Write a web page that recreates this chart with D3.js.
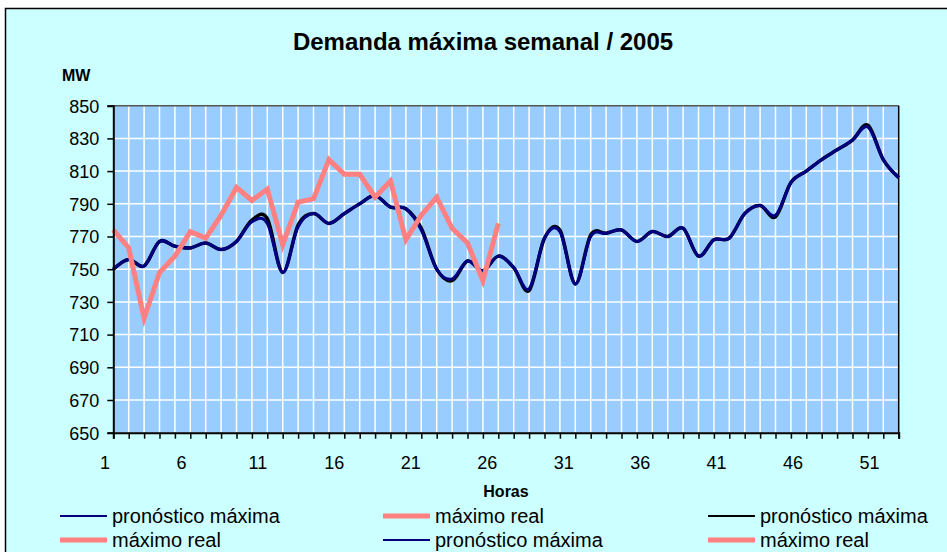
<!DOCTYPE html>
<html>
<head>
<meta charset="utf-8">
<script src="https://cdn.jsdelivr.net/npm/d3@7"></script>
<style>
  body { margin: 0; background: #ffffff; }
  text { font-family: "Liberation Sans", Arial, sans-serif; fill: #000; }
</style>
</head>
<body>
<script>
// data

const weeks = [1, 2, 3, 4, 5, 6, 7, 8, 9, 10, 11, 12, 13, 14, 15, 16, 17, 18, 19, 20, 21, 22, 23, 24, 25, 26,
  27, 28, 29, 30, 31, 32, 33, 34, 35, 36, 37, 38, 39, 40, 41, 42, 43, 44, 45, 46, 47, 48, 49, 50, 51, 52];
const weekLabels = [1, 6, 11, 16, 21, 26, 31, 36, 41, 46, 51];
const yTicks = [650, 670, 690, 710, 730, 750, 770, 790, 810, 830, 850];

const pronostico = [750, 756, 752, 767, 764, 763, 766, 762, 767, 779, 778, 748, 776, 784, 778, 784, 790, 795, 788, 787,
  774, 750, 744, 755, 749, 758, 751, 738, 769, 773, 741, 770, 772, 774, 767, 773, 770, 775, 758, 768,
  769, 784, 789, 783, 803, 810, 817, 823, 829, 837, 817, 806];
const pronostico2 = [750, 756, 752, 767, 764, 763, 766, 762, 767, 780, 781, 748, 777, 784, 778, 784, 790, 795, 788, 787,
  775, 750, 743, 755, 749, 758, 751, 737, 769, 774, 741, 771, 772, 774, 767, 773, 770, 775, 758, 768,
  769, 784, 789, 782, 803, 810, 817, 823, 829, 838, 817, 806];
const maximoReal = [774, 763, 720, 748, 758, 773, 769, 783, 800, 792, 799, 765, 791, 793, 817, 808, 808, 794, 804, 768,
  783, 794, 775, 766, 743, 778];

const legendNames = ["pronóstico máxima", "máximo real", "pronóstico máxima", "máximo real", "pronóstico máxima", "máximo real"];
const legendColors = ["#000080", "#ff8080", "#000000", "#ff8080", "#000080", "#ff8080"];

// chart

const w = 947;
const h = 552;
const m = {
  top: 105.7,
  right: 48.3,
  bottom: 119.3,
  left: 113.3 };

const svg = d3.select("body").append("svg").
attr("width", w).
attr("height", h);

// chart area
svg.append("rect").
attr("x", 5.5).
attr("y", 8.5).
attr("width", w + 10).
attr("height", h + 10).
attr("fill", "#ccffff").
attr("stroke", "#000").
attr("stroke-width", 1.5);

const x = d3.scalePoint().
domain(weeks).
range([m.left, w - m.right]);
// the category labels sit a little left of their ticks
const xLab = d3.scalePoint().
domain(weeks).
range([105, 884.8]);
const y = d3.scaleLinear().
domain([650, 850]).
range([h - m.bottom, m.top]);

// plot area
svg.append("rect").
attr("x", m.left).
attr("y", m.top).
attr("width", w - m.right - m.left).
attr("height", h - m.bottom - m.top).
attr("fill", "#99ccff");

// grid
svg.append("g").
selectAll("line").
data(weeks.slice(1, -1)).
enter().
append("line").
attr("x1", d => x(d)).
attr("x2", d => x(d)).
attr("y1", m.top).
attr("y2", h - m.bottom).
attr("stroke", "#ffffff").
attr("stroke-width", 1.5);

svg.append("g").
selectAll("line").
data(yTicks.slice(1, -1)).
enter().
append("line").
attr("x1", m.left).
attr("x2", w - m.right).
attr("y1", d => y(d)).
attr("y2", d => y(d)).
attr("stroke", "#ffffff").
attr("stroke-width", 1.5);

// plot border top / right
svg.append("line").
attr("x1", m.left).attr("x2", w - m.right).
attr("y1", m.top).attr("y2", m.top).
attr("stroke", "#555").attr("stroke-width", 1.5);
svg.append("line").
attr("x1", w - m.right).attr("x2", w - m.right).
attr("y1", m.top).attr("y2", h - m.bottom).
attr("stroke", "#000").attr("stroke-width", 1.5);

// lines
const smooth = d3.line().
x((d, i) => x(weeks[i])).
y(d => y(d)).
curve(d3.curveCardinal.tension(0));
const straight = d3.line().
x((d, i) => x(weeks[i])).
y(d => y(d));

svg.append("path").
attr("d", smooth(pronostico2)).
attr("fill", "none").
attr("stroke", "#000000").
attr("stroke-width", 3.5);
svg.append("path").
attr("d", smooth(pronostico)).
attr("fill", "none").
attr("stroke", "#000080").
attr("stroke-width", 3);
svg.append("path").
attr("d", straight(maximoReal)).
attr("fill", "none").
attr("stroke", "#ff8080").
attr("stroke-width", 5).
attr("stroke-linejoin", "miter");

// axes
const yAxis = d3.axisLeft(y).
tickValues(yTicks).
tickSize(6).
tickPadding(8).
tickFormat(d3.format("d"));
const gy = svg.append("g").
attr("transform", "translate(" + m.left + ",0)").
call(yAxis);
gy.select(".domain").attr("stroke", "#000").attr("stroke-width", 2);
gy.selectAll(".tick line").attr("stroke", "#000").attr("stroke-width", 1.5);
gy.selectAll("text").
style("font-size", "18px").
style("font-family", "Liberation Sans, Arial, sans-serif").
attr("dy", "0.35em");

const xAxis = d3.axisBottom(x).
tickSize(6).
tickFormat("");
const gx = svg.append("g").
attr("transform", "translate(0," + (h - m.bottom) + ")").
call(xAxis);
gx.select(".domain").attr("stroke", "#000").attr("stroke-width", 2);
gx.selectAll(".tick line").attr("stroke", "#000").attr("stroke-width", 1.5);

svg.append("g").
selectAll("text").
data(weekLabels).
enter().
append("text").
attr("x", d => xLab(d)).
attr("y", 463).
attr("dy", "0.35em").
attr("text-anchor", "middle").
style("font-size", "18px").
text(d => d);

// titles
svg.append("text").
attr("x", 483).
attr("y", 42).
attr("dy", "0.35em").
attr("text-anchor", "middle").
style("font-size", "24px").
style("font-weight", "bold").
text("Demanda máxima semanal / 2005");

svg.append("text").
attr("x", 62).
attr("y", 75).
attr("dy", "0.35em").
style("font-size", "16px").
style("font-weight", "bold").
text("MW");

svg.append("text").
attr("x", 506).
attr("y", 491).
attr("dy", "0.35em").
attr("text-anchor", "middle").
style("font-size", "16px").
style("font-weight", "bold").
text("Horas");

// legend
const legX = [60, 383, 708];
const legY = [516, 540];

const leg = svg.selectAll(".leg").
data(legendNames).
enter().
append("g").
attr("class", "leg").
attr("transform", (d, i) => "translate(" + legX[i % 3] + "," + legY[Math.floor(i / 3)] + ")");

leg.append("line").
attr("x1", 0).
attr("x2", 47).
attr("stroke", (d, i) => legendColors[i]).
attr("stroke-width", (d, i) => legendColors[i] == "#ff8080" ? 5 : 2);

leg.append("text").
attr("x", 52).
attr("dy", "0.35em").
style("font-size", "20px").
text(d => d);
</script>
</body>
</html>
